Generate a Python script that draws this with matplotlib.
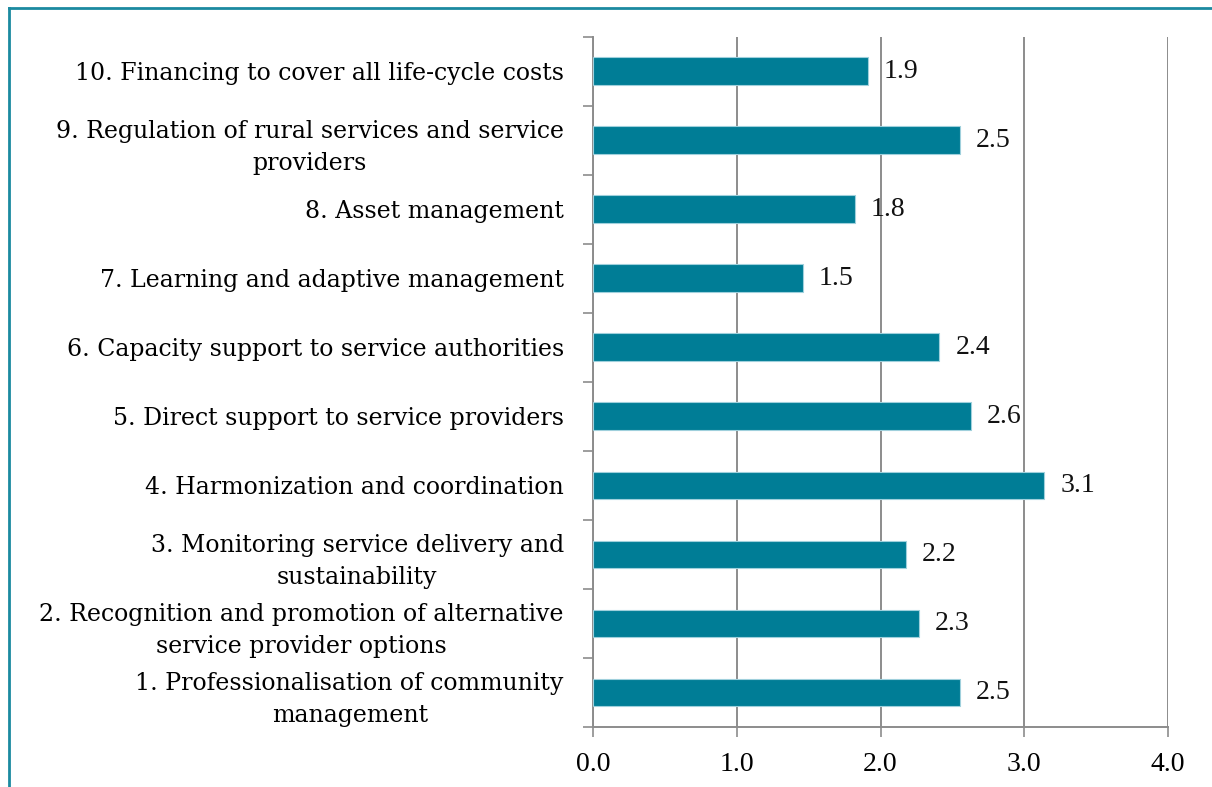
import matplotlib.pyplot as plt
import numpy as np

# categories bottom -> top
categories = [
    "1. Professionalisation of community\nmanagement",
    "2. Recognition and promotion of alternative\nservice provider options",
    "3. Monitoring service delivery and\nsustainability",
    "4. Harmonization and coordination",
    "5. Direct support to service providers",
    "6. Capacity support to service authorities",
    "7. Learning and adaptive management",
    "8. Asset management",
    "9. Regulation of rural services and service\nproviders",
    "10. Financing to cover all life-cycle costs",
]
scores = [2.55, 2.27, 2.18, 3.14, 2.63, 2.41, 1.46, 1.82, 2.55, 1.91]
xticks = [0.0, 1.0, 2.0, 3.0, 4.0]

bar_color = "#007d96"
grid_color = "#8c8c8c"
label_font = "DejaVu Serif"
num_font = "Liberation Serif"

fig = plt.figure(figsize=(12.12, 7.87), dpi=100)
ax = fig.add_axes([0.4893, 0.0762, 0.4744, 0.8774])

y = np.arange(len(categories))
ax.barh(y, scores, height=0.4, color=bar_color, edgecolor="#9fd0dc", linewidth=0.8, zorder=3)

for yi, v in zip(y, scores):
    ax.text(v + 0.11, yi, f"{v:.1f}", va="center", ha="left",
            fontsize=20, family=num_font, color="#111111", zorder=4)

ax.set_xlim(0, 4)
ax.set_ylim(-0.5, len(categories) - 0.5)
ax.set_xticks(xticks)
ax.set_xticklabels([f"{t:.1f}" for t in xticks], family=num_font, fontsize=20)
ax.xaxis.grid(True, color=grid_color, linewidth=1.4, zorder=0)
ax.tick_params(axis="x", length=7, width=1.2, color=grid_color, pad=11)

ax.set_yticks(y)
ax.set_yticklabels(categories, family=label_font, fontsize=17)
for lab in ax.get_yticklabels():
    lab.set_multialignment("center")
    lab.set_linespacing(1.5)
ax.set_yticks(np.arange(-0.5, len(categories)), minor=True)
ax.tick_params(axis="y", which="major", length=0, pad=21)
ax.tick_params(axis="y", which="minor", length=7, width=1.2, color=grid_color)

for s in ["top", "right"]:
    ax.spines[s].set_visible(False)
for s in ["left", "bottom"]:
    ax.spines[s].set_color(grid_color)
    ax.spines[s].set_linewidth(1.4)

# teal frame on top and left
border = "#1b8aa0"
fig.add_artist(plt.Line2D([9 / 1212, 1.0], [1 - 8 / 787, 1 - 8 / 787], transform=fig.transFigure, color=border, linewidth=2))
fig.add_artist(plt.Line2D([9 / 1212, 9 / 1212], [0, 1 - 8 / 787], transform=fig.transFigure, color=border, linewidth=2))

fig.savefig("out.png", dpi=100)
